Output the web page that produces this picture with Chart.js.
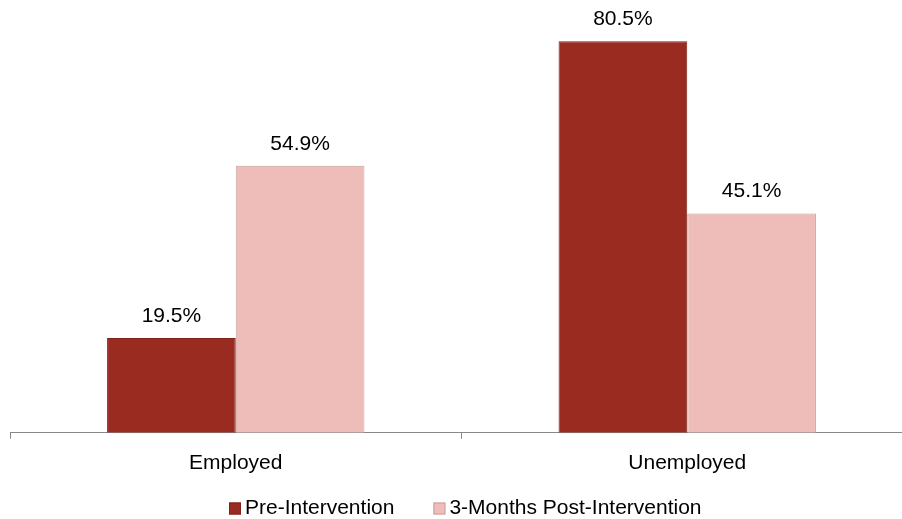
<!DOCTYPE html>
<html>
<head>
<meta charset="utf-8">
<script src="https://cdn.jsdelivr.net/npm/chart.js@4/dist/chart.umd.min.js"></script>
<style>
  html, body { margin: 0; padding: 0; background: #fff; overflow: hidden; }
  #wrap { width: 914px; height: 519px; position: relative; }
</style>
</head>
<body>
<div id="wrap"><canvas id="chart"></canvas></div>
<script>
const categories = ['Employed', 'Unemployed'];
const preValues = [19.5, 80.5];
const postValues = [54.9, 45.1];
const seriesNames = ['Pre-Intervention', '3-Months Post-Intervention'];

const FONT = '"Liberation Sans", Arial, sans-serif';
Chart.defaults.font.family = FONT;
Chart.defaults.color = '#000';

// value labels above the bars
const barLabels = {
  id: 'barLabels',
  afterDatasetsDraw(chart) {
    const ctx = chart.ctx;
    ctx.save();
    ctx.font = '21px ' + FONT;
    ctx.fillStyle = '#000';
    ctx.textAlign = 'center';
    ctx.textBaseline = 'middle';
    chart.data.datasets.forEach((ds, i) => {
      chart.getDatasetMeta(i).data.forEach((bar, j) => {
        ctx.fillText(ds.data[j].toFixed(1) + '%', bar.x, bar.y - 22);
      });
    });
    ctx.restore();
  }
};

// legend row under the axis, slightly left of centre like the original
const bottomLegend = {
  id: 'bottomLegend',
  afterDraw(chart) {
    const ctx = chart.ctx;
    const y = 508.5;
    ctx.save();
    ctx.font = '21px ' + FONT;
    ctx.textBaseline = 'middle';
    ctx.textAlign = 'left';
    let x = 229;
    chart.data.datasets.forEach((ds) => {
      ctx.fillStyle = ds.backgroundColor;
      ctx.fillRect(x, y - 6, 12, 12);
      ctx.strokeStyle = ds.borderColor;
      ctx.lineWidth = 1;
      ctx.strokeRect(x + 0.5, y - 5.5, 11, 11);
      ctx.fillStyle = '#000';
      ctx.fillText(ds.label, x + 16, y);
      x += 16 + ctx.measureText(ds.label).width + 39;
    });
    ctx.restore();
  }
};

new Chart(document.getElementById('chart'), {
  type: 'bar',
  data: {
    labels: categories,
    datasets: [
      {
        label: seriesNames[0],
        data: preValues,
        backgroundColor: '#9A2B21',
        borderColor: '#7E2219',
        borderWidth: 1
      },
      {
        label: seriesNames[1],
        data: postValues,
        backgroundColor: '#EFBDB9',
        borderColor: '#C9A09C',
        borderWidth: 1
      }
    ]
  },
  options: {
    responsive: true,
    maintainAspectRatio: false,
    animation: false,
    layout: { padding: { left: 10, right: 1, top: 0, bottom: 31 } },
    datasets: {
      bar: { categoryPercentage: 0.57, barPercentage: 1.0 }
    },
    scales: {
      x: {
        grid: {
          drawOnChartArea: false,
          drawTicks: true,
          tickLength: 6,
          color: '#888'
        },
        border: { color: '#888', width: 1 },
        ticks: { font: { size: 21 }, padding: 12 }
      },
      y: {
        display: false,
        min: 0,
        max: 89
      }
    },
    plugins: {
      legend: { display: false },
      tooltip: { enabled: false }
    }
  },
  plugins: [barLabels, bottomLegend]
});
</script>
</body>
</html>
